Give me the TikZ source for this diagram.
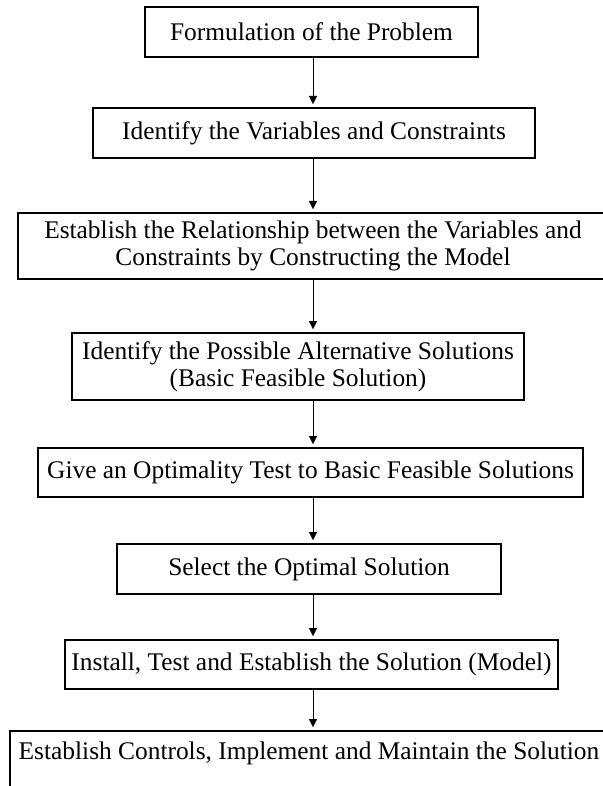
\documentclass[tikz,border=0pt]{standalone}
\usepackage{fontspec}
\setmainfont{Liberation Serif}
\usepackage{tikz}
\usetikzlibrary{arrows.meta}
\tikzstyle{block}    = [rectangle,
                        draw,
                        line width=1pt,
                        align=center,
                        inner sep=0pt,
                        font=\fontsize{12.7}{13.5}\selectfont]
\tikzstyle{line}     = [draw, line width=0.1pt, -{Triangle[width=4pt,length=4pt]}, shorten >=1.5pt]

\begin{document}
\begin{tikzpicture}[%
  x=0.5pt,
  y=-0.5pt
  ]
  \useasboundingbox (0,0) rectangle (602,786);

  % Nodes:
  \node (t-formulate) [block, minimum width=166.5pt, minimum height=25pt] at (311.5,32) {Formulation of the Problem};
  \node (t-variables) [block, minimum width=221pt, minimum height=25pt] at (314,133) {Identify the Variables and Constraints};
  \node (t-model) [block, minimum width=295pt, minimum height=33pt] at (313,246) {Establish the Relationship between the Variables and\\Constraints by Constructing the Model};
  \node (t-alternatives) [block, minimum width=226pt, minimum height=33.5pt] at (298,366.5) {Identify the Possible Alternative Solutions\\(Basic Feasible Solution)};
  \node (t-test) [block, minimum width=272.5pt, minimum height=24.5pt] at (310.5,472.5) {Give an Optimality Test to Basic Feasible Solutions};
  \node (t-select) [block, minimum width=192pt, minimum height=25pt] at (309,569) {Select the Optimal Solution};
  \node (t-install) [block, minimum width=246.5pt, minimum height=24.5pt] at (311.5,664.5) {Install, Test and Establish the Solution (Model)};
  \node (t-controls) [block, minimum width=299pt, text height=14pt, text depth=20pt, anchor=north] at (309,730) {Establish Controls, Implement and Maintain the Solution};

  \coordinate (t-axis) at (313,0);

  % Connectors:
  \draw[line] (t-formulate.south -| t-axis) -- (t-variables.north -| t-axis);
  \draw[line] (t-variables.south -| t-axis) -- (t-model.north -| t-axis);
  \draw[line] (t-model.south -| t-axis) -- (t-alternatives.north -| t-axis);
  \draw[line] (t-alternatives.south -| t-axis) -- (t-test.north -| t-axis);
  \draw[line] (t-test.south -| t-axis) -- (t-select.north -| t-axis);
  \draw[line] (t-select.south -| t-axis) -- (t-install.north -| t-axis);
  \draw[line] (t-install.south -| t-axis) -- (t-controls.north -| t-axis);
\end{tikzpicture}
\end{document}
